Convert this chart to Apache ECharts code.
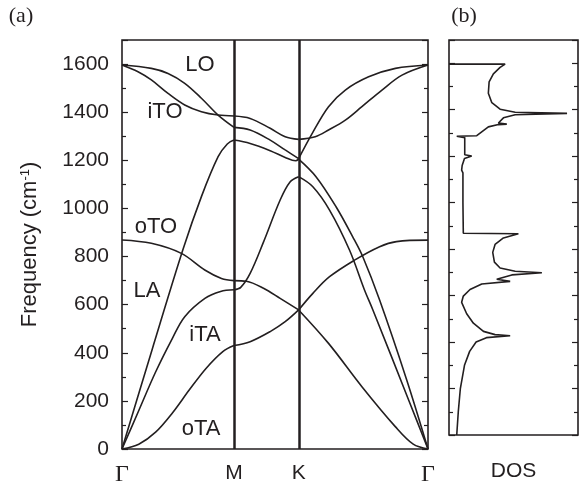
<!DOCTYPE html>
<html>
<head>
<meta charset="utf-8">
<title>Graphene phonon dispersion</title>
<script src="https://cdn.jsdelivr.net/npm/echarts@6/dist/echarts.min.js"></script>
<style>
  html, body { margin: 0; padding: 0; background: #fff; }
  #chart { width: 582px; height: 487px; }
</style>
</head>
<body>
<div id="chart"></div>
<script>
// high symmetry points along the path (Γ-M = 1)
const symK = [0, 1, 1.577, 2.732];
const symLabels = ["Γ", "M", "K", "Γ"];

// frequency axis (cm-1)
const freqMax = 1700;
const freqStep = 200;

// ---- Γ -> M ----
const LO_GM = [[0, 1596], [0.262, 1582], [0.411, 1561], [0.56, 1520], [0.709, 1458], [0.858, 1388], [1, 1337]];
const iTO_GM = [[0, 1596], [0.143, 1568], [0.262, 1534], [0.411, 1478], [0.56, 1430], [0.709, 1402], [0.858, 1388], [1, 1384]];
const LA_GM = [[0, 0], [0.27, 415], [0.545, 830], [0.709, 1049], [0.858, 1215], [0.94, 1268], [1, 1284]];
const oTO_GM = [[0, 869], [0.262, 855], [0.53, 813], [0.739, 744], [0.888, 709], [1, 700]];
const iTA_GM = [[0, 0], [0.15, 160], [0.3, 320], [0.45, 460], [0.56, 550], [0.74, 626], [0.88, 655], [1, 662]];
const oTA_GM = [[0, 0], [0.15, 20], [0.3, 70], [0.45, 150], [0.6, 245], [0.75, 335], [0.9, 405], [1, 430]];

// ---- M -> K ----
const iTO_MK = [[1, 1384], [1.144, 1374], [1.323, 1333], [1.457, 1298], [1.577, 1287]];
const LO_MK = [[1, 1337], [1.144, 1326], [1.323, 1284], [1.457, 1243], [1.577, 1207]];
const LA_MK = [[1, 1284], [1.144, 1270], [1.323, 1240], [1.457, 1212], [1.55, 1198], [1.577, 1205]];
const iTA_MK = [[1, 662], [1.06, 672], [1.144, 730], [1.263, 860], [1.412, 1035], [1.5, 1110], [1.577, 1132]];
const oTO_MK = [[1, 700], [1.111, 697], [1.263, 668], [1.412, 626], [1.577, 578]];
const oTA_MK = [[1, 430], [1.144, 446], [1.323, 488], [1.457, 529], [1.577, 578]];

// ---- K -> Γ ----
const LO_KG = [[1.577, 1207], [1.696, 1310], [1.844, 1423], [1.994, 1492], [2.202, 1547], [2.441, 1582], [2.732, 1596]];
const iTO_KG = [[1.577, 1287], [1.725, 1298], [1.844, 1326], [1.994, 1367], [2.142, 1423], [2.321, 1492], [2.5, 1554], [2.732, 1596]];
const LA_KG = [[1.577, 1205], [1.732, 1132], [1.911, 1007], [2.06, 882], [2.15, 799], [2.3, 619], [2.542, 287], [2.732, 0]];
const iTA_KG = [[1.577, 1132], [1.704, 1090], [1.853, 993], [2.031, 827], [2.165, 661], [2.24, 578], [2.559, 204], [2.732, 0]];
const oTO_KG = [[1.577, 578], [1.704, 647], [1.853, 716], [2.076, 785], [2.3, 841], [2.45, 862], [2.732, 868]];
const oTA_KG = [[1.577, 578], [1.844, 439], [2.142, 259], [2.44, 93], [2.6, 20], [2.732, 0]];

// ---- DOS (arb. units) ----
const dosFreq = [0, 100, 200, 300, 360, 400, 419, 427, 432, 446, 481, 522, 571, 598, 626, 650, 661, 670, 689, 698,
  705, 719, 744, 786, 820, 848, 866, 868, 1000, 1128, 1140, 1160, 1190, 1197, 1201, 1206, 1280, 1286, 1288,
  1326, 1336, 1338, 1343, 1365, 1378, 1384, 1389, 1402, 1430, 1471, 1520, 1554, 1582, 1596, 1596];
const dosValue = [0.06, 0.072, 0.088, 0.12, 0.16, 0.21, 0.29, 0.474, 0.357, 0.267, 0.189, 0.137, 0.098, 0.111, 0.163, 0.254, 0.474, 0.37, 0.487, 0.72,
  0.513, 0.396, 0.352, 0.339, 0.357, 0.422, 0.538, 0.111, 0.108, 0.108, 0.098, 0.102, 0.12, 0.122, 0.176, 0.122, 0.122, 0.06, 0.215,
  0.305, 0.383, 0.448, 0.383, 0.422, 0.513, 0.915, 0.513, 0.396, 0.332, 0.305, 0.311, 0.344, 0.396, 0.435, 0];

const branches = [
  LO_GM, iTO_GM, LA_GM, oTO_GM, iTA_GM, oTA_GM,
  iTO_MK, LO_MK, LA_MK, iTA_MK, oTO_MK, oTA_MK,
  LO_KG, iTO_KG, LA_KG, iTA_KG, oTO_KG, oTA_KG,
];

const ink = "#231f20";
const sans = "'Liberation Sans', Arial, sans-serif";
const serif = "'Liberation Serif', 'Times New Roman', serif";

const chart = echarts.init(document.getElementById("chart"), null, { renderer: "canvas" });

function symLabel(v) {
  let best = 0;
  symK.forEach((k, i) => {
    if (Math.abs(k - v) < Math.abs(symK[best] - v)) best = i;
  });
  const t = symLabels[best];
  return t === "Γ" ? "{g|" + t + "}" : "{s|" + t + "}";
}

function freqAxis(gridIndex, position, showLabel, extra) {
  return Object.assign({
    type: "value",
    gridIndex: gridIndex,
    position: position,
    min: 0,
    max: freqMax,
    interval: freqStep,
    axisLine: { show: false },
    splitLine: { show: false },
    axisTick: { show: true, inside: true, length: 6, lineStyle: { color: ink, width: 1.2 } },
    minorTick: { show: true, splitNumber: 2, length: 4, lineStyle: { color: ink, width: 1.2 } },
    minorSplitLine: { show: false },
    axisLabel: {
      show: showLabel,
      showMaxLabel: false,
      formatter: (v) => String(v),
      color: ink,
      fontSize: 21,
      fontFamily: sans,
      margin: 13,
    },
  }, extra || {});
}

const lineSeries = branches.map((data) => ({
  type: "line",
  xAxisIndex: 0,
  yAxisIndex: 0,
  data: data,
  smooth: 0.35,
  symbol: "none",
  silent: true,
  lineStyle: { color: ink, width: 1.6 },
}));

// vertical lines at M and K
lineSeries[0].markLine = {
  silent: true,
  symbol: ["none", "none"],
  label: { show: false },
  lineStyle: { color: ink, width: 2.5, type: "solid" },
  data: [{ xAxis: symK[1] }, { xAxis: symK[2] }],
};

const dosSeries = {
  type: "line",
  xAxisIndex: 1,
  yAxisIndex: 2,
  data: dosFreq.map((f, i) => [dosValue[i], f]),
  symbol: "none",
  silent: true,
  lineStyle: { color: ink, width: 1.6 },
};

const bandText = [
  ["LO", 200, 65],
  ["iTO", 165, 112],
  ["oTO", 156, 227],
  ["LA", 147, 291],
  ["iTA", 205, 335],
  ["oTA", 201, 429],
];

const option = {
  animation: false,
  backgroundColor: "#fff",
  grid: [
    { left: 122, top: 40, width: 306, height: 409, show: true, borderColor: ink, borderWidth: 1.6, backgroundColor: "transparent" },
    { left: 449, top: 40, width: 129, height: 409, show: true, borderColor: ink, borderWidth: 1.6, backgroundColor: "transparent" },
  ],
  xAxis: [
    {
      type: "value",
      gridIndex: 0,
      min: symK[0],
      max: symK[3],
      axisLine: { show: false },
      splitLine: { show: false },
      axisTick: { show: false },
      axisLabel: {
        customValues: symK,
        formatter: symLabel,
        margin: 14,
        color: ink,
        rich: {
          g: { fontFamily: serif, fontSize: 24, color: ink },
          s: { fontFamily: sans, fontSize: 21, color: ink },
        },
      },
    },
    {
      type: "value",
      gridIndex: 1,
      min: 0,
      max: 1,
      axisLine: { show: false },
      splitLine: { show: false },
      axisTick: { show: false },
      axisLabel: { show: false },
      name: "DOS",
      nameLocation: "middle",
      nameGap: 26,
      nameTextStyle: { color: ink, fontSize: 21, fontFamily: sans },
    },
  ],
  yAxis: [
    freqAxis(0, "left", true, {
      name: "Frequency (cm{sup|-1})",
      nameLocation: "middle",
      nameGap: 81,
      nameTextStyle: {
        color: ink,
        fontSize: 22,
        fontFamily: sans,
        rich: { sup: { fontSize: 13, fontFamily: sans, color: ink, verticalAlign: "top", lineHeight: 22 } },
      },
    }),
    freqAxis(0, "right", false),
    freqAxis(1, "left", false),
    freqAxis(1, "right", false),
  ],
  graphic: [
    { type: "text", x: 21, y: 16, style: { text: "(a)", font: "22px " + serif, fill: ink, textAlign: "center", textVerticalAlign: "middle" } },
    { type: "text", x: 464, y: 16, style: { text: "(b)", font: "22px " + serif, fill: ink, textAlign: "center", textVerticalAlign: "middle" } },
  ].concat(bandText.map((b) => ({
    type: "text",
    x: b[1],
    y: b[2],
    style: { text: b[0], font: "22px " + sans, fill: ink, textAlign: "center", textVerticalAlign: "middle" },
  }))),
  series: lineSeries.concat([dosSeries]),
};

chart.setOption(option);
</script>
</body>
</html>
